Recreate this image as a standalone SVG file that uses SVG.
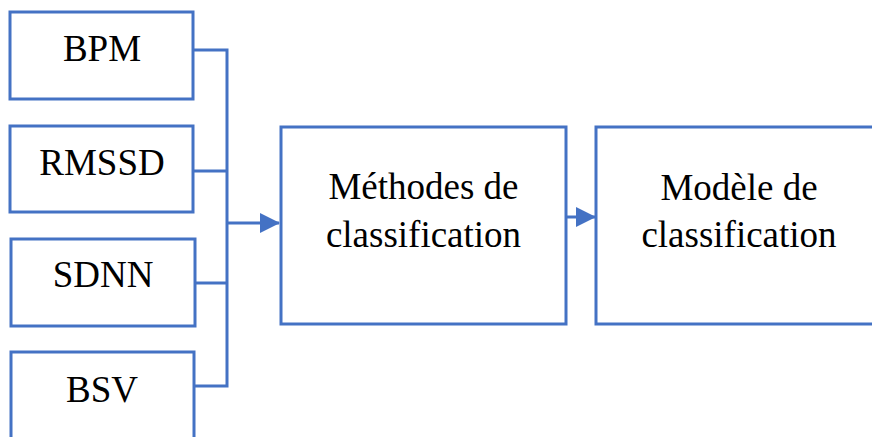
<svg xmlns="http://www.w3.org/2000/svg" width="872" height="437" viewBox="0 0 872 437">
<style>
.box{fill:#ffffff;stroke:#4472C4;stroke-width:3}
.lbl{font-family:"Liberation Serif","Times New Roman",serif;font-size:37px;fill:#000000;text-anchor:middle}
.con{fill:none;stroke:#4472C4;stroke-width:3}
</style>
<defs>
<marker id="arr" markerUnits="userSpaceOnUse" markerWidth="20" markerHeight="20" refX="19" refY="10" orient="auto">
<path d="M0,0 L20,10 L0,20 Z" fill="#4472C4"/>
</marker>
</defs>
<rect width="872" height="437" fill="#ffffff"/>
<g id="connectors">
<path class="con" d="M193,50 H227 V386 H193"/>
<path class="con" d="M193,171 H227"/>
<path class="con" d="M195,283 H227"/>
<path class="con" d="M227,223 H279" marker-end="url(#arr)"/>
<path class="con" d="M566,217 H595" marker-end="url(#arr)"/>
</g>
<g id="node-bpm">
<rect class="box" x="10" y="12" width="183" height="87"/>
<text class="lbl" x="102" y="61">BPM</text>
</g>
<g id="node-rmssd">
<rect class="box" x="10" y="126" width="183" height="86"/>
<text class="lbl" x="102" y="175">RMSSD</text>
</g>
<g id="node-sdnn">
<rect class="box" x="11" y="239" width="184" height="87"/>
<text class="lbl" x="103" y="287">SDNN</text>
</g>
<g id="node-bsv">
<rect class="box" x="11" y="352" width="183" height="100"/>
<text class="lbl" x="102" y="402">BSV</text>
</g>
<g id="node-methodes">
<rect class="box" x="281" y="127" width="285" height="197"/>
<text class="lbl" x="423.5" y="199">Méthodes de</text>
<text class="lbl" x="423.5" y="247">classification</text>
</g>
<g id="node-modele">
<rect class="box" x="596" y="127" width="290" height="197"/>
<text class="lbl" x="739" y="200">Modèle de</text>
<text class="lbl" x="739" y="247">classification</text>
</g>
</svg>
